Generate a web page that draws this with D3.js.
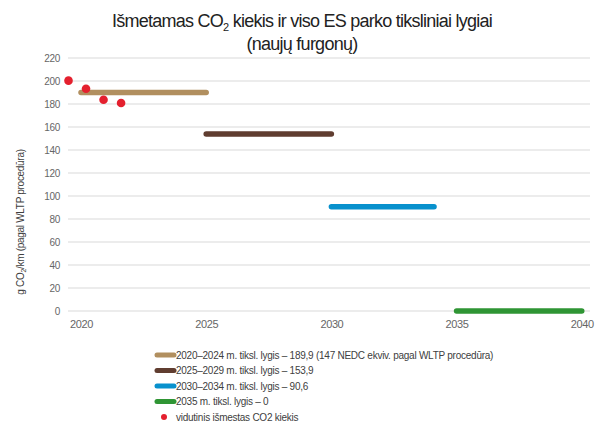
<!DOCTYPE html>
<html lang="lt">
<head>
<meta charset="utf-8">
<title>CO2 furgonai</title>
<script src="https://d3js.org/d3.v7.min.js"></script>
<style>
  body { margin: 0; background: #fff; }
  svg { font-family: "Liberation Sans", Arial, sans-serif; }
</style>
</head>
<body>
<script>
// target levels (start year, end year, value)
const targetNames = [
  "2020–2024 m. tiksl. lygis – 189,9 (147 NEDC ekviv. pagal WLTP procedūra)",
  "2025–2029 m. tiksl. lygis – 153,9",
  "2030–2034 m. tiksl. lygis – 90,6",
  "2035 m. tiksl. lygis – 0"
];
const targetStart = [2020, 2025, 2030, 2035];
const targetEnd = [2025, 2030, 2034.1, 2040];
const targetValue = [189.9, 153.9, 90.6, 0];
const targetColors = ["#b18f5f", "#603d30", "#0891cd", "#2f9534"];

// average emissions (red dots)
const avgName = "vidutinis išmestas CO2 kiekis";
const avgYears = [2019.5, 2020.2, 2020.9, 2021.6];
const avgValues = [200.3, 193.3, 183.7, 180.9];

const xTicks = [2020, 2025, 2030, 2035, 2040];
const yTicks = d3.range(0, 221, 20);

const w = 596, h = 428;
const svg = d3.select("body").append("svg")
  .attr("width", w).attr("height", h);

const x = d3.scaleLinear().domain([2019.48, 2040.33]).range([68, 590]);
const y = d3.scaleLinear().domain([0, 220]).range([311, 58]);

// title
const title = svg.append("text")
  .attr("text-anchor", "middle")
  .attr("font-size", 18)
  .attr("letter-spacing", -0.75)
  .attr("fill", "#222");
title.append("tspan").attr("x", 302).attr("y", 27)
  .text("Išmetamas CO")
  .append("tspan").attr("font-size", 11).attr("dy", 4).text("2");
title.append("tspan").attr("dy", -4).text(" kiekis ir viso ES parko tiksliniai lygiai");
title.append("tspan").attr("x", 302).attr("y", 50).text("(naujų furgonų)");

// gridlines
svg.append("g").selectAll("line")
  .data(yTicks).enter().append("line")
  .attr("x1", x.range()[0]).attr("x2", x.range()[1])
  .attr("y1", d => y(d)).attr("y2", d => y(d))
  .attr("stroke", "#d9d9d9").attr("stroke-width", 1);

// y axis
const yAxis = svg.append("g")
  .attr("transform", "translate(60,0)")
  .call(d3.axisLeft(y).tickValues(yTicks).tickSize(0).tickPadding(0));
yAxis.select(".domain").remove();
yAxis.selectAll("text").attr("font-size", 10).attr("fill", "#666")
  .attr("letter-spacing", -0.3)
  .attr("font-family", "Liberation Sans, Arial, sans-serif");

// x axis
const xAxis = svg.append("g")
  .attr("transform", "translate(0,318)")
  .call(d3.axisBottom(x).tickValues(xTicks).tickFormat(d3.format("d")).tickSize(0).tickPadding(2));
xAxis.select(".domain").remove();
xAxis.selectAll("text").attr("font-size", 11).attr("fill", "#666")
  .attr("letter-spacing", -0.4)
  .attr("font-family", "Liberation Sans, Arial, sans-serif");

// y label
const yl = svg.append("text")
  .attr("transform", "translate(24,222) rotate(-90)")
  .attr("text-anchor", "middle")
  .attr("font-size", 10)
  .attr("letter-spacing", -0.3)
  .attr("fill", "#404040");
yl.append("tspan").text("g CO");
yl.append("tspan").attr("font-size", 7).attr("dy", 2).text("2");
yl.append("tspan").attr("dy", -2).text("/km (pagal WLTP procedūra)");

// target lines
svg.append("g").selectAll("line")
  .data(targetValue).enter().append("line")
  .attr("x1", (d, i) => x(targetStart[i]))
  .attr("x2", (d, i) => x(targetEnd[i]))
  .attr("y1", d => y(d)).attr("y2", d => y(d))
  .attr("stroke", (d, i) => targetColors[i])
  .attr("stroke-width", 5.5)
  .attr("stroke-linecap", "round");

// average dots
svg.append("g").selectAll("circle")
  .data(avgValues).enter().append("circle")
  .attr("cx", (d, i) => x(avgYears[i]))
  .attr("cy", d => y(d))
  .attr("r", 4.3)
  .attr("fill", "#e4202e");

// legend
const lg = svg.append("g").attr("font-size", 10).attr("letter-spacing", -0.25);
targetNames.forEach((name, i) => {
  const ly = 355 + i * 15.5;
  lg.append("line")
    .attr("x1", 157).attr("x2", 174).attr("y1", ly).attr("y2", ly)
    .attr("stroke", targetColors[i]).attr("stroke-width", 5)
    .attr("stroke-linecap", "round");
  lg.append("text").attr("x", 176).attr("y", ly + 3.5).attr("fill", "#404040").text(name);
});
const dy5 = 355 + 4 * 15.5;
lg.append("circle").attr("cx", 164).attr("cy", dy5).attr("r", 3).attr("fill", "#e4202e");
lg.append("text").attr("x", 176).attr("y", dy5 + 3.5).attr("fill", "#404040").text(avgName);
</script>
</body>
</html>
